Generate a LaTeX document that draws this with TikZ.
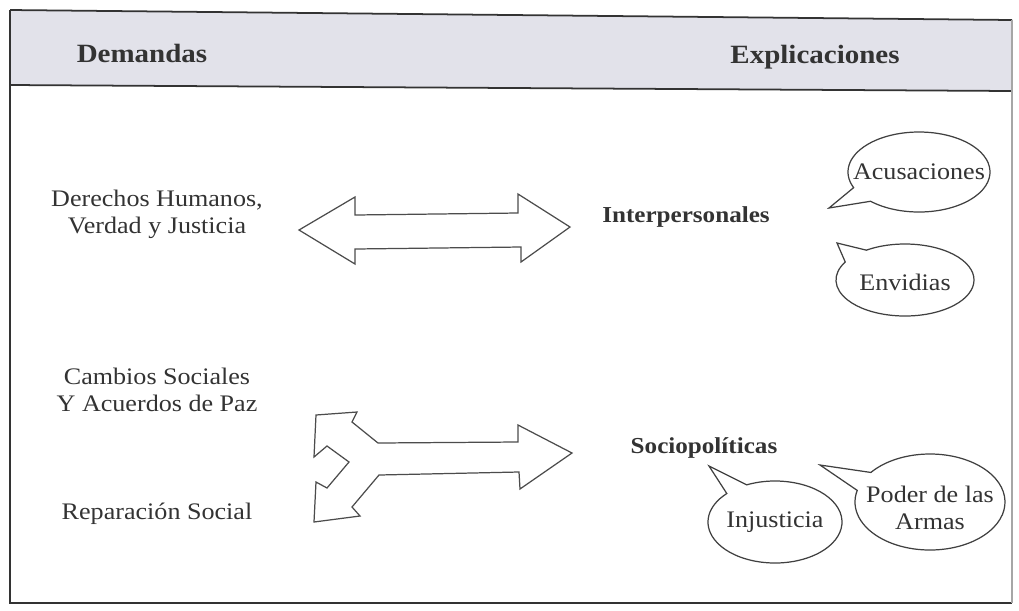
\documentclass[tikz,border=0pt]{standalone}
\usepackage{fontspec}
\setmainfont{Liberation Serif}[FakeStretch=1.1]
\usetikzlibrary{calc}
\definecolor{hdr}{HTML}{E2E2EA}
\definecolor{ink}{HTML}{333333}
\newcommand\spbubble[7]{%
  \draw[bubble] ($(#1)+(#4:#2 and #3)$) -- (#6) -- ($(#1)+(#5:#2 and #3)$)
    arc[start angle=#5, end angle=#7, x radius=#2, y radius=#3] -- cycle;}
\begin{document}
\begin{tikzpicture}[x=0.02cm,y=-0.02cm,
  txt/.style={text=ink,font=\fontsize{13.5}{15.5}\selectfont,align=center,inner sep=0pt},
  btxt/.style={txt,font=\fontsize{13}{15}\selectfont\bfseries},
  htxt/.style={txt,font=\fontsize{15}{18}\selectfont\bfseries},
  blockarrow/.style={draw=black!70,line width=0.7pt,line join=miter,fill=white},
  bubble/.style={draw=black!75,line width=0.7pt,fill=white},
  frame/.style={draw=black!80,line width=1pt}]
\useasboundingbox (0,0) rectangle (1019,610);
% frame and header
\fill[hdr] (10,10) -- (1012,20) -- (1012,91) -- (10,85) -- cycle;
\draw[frame] (10,10) -- (1012,20);
\draw[frame] (10,85) -- (1012,91);
\draw[frame] (10,10) -- (10,603) -- (1012,603);
\draw[black!35,line width=0.6pt] (1012,20) -- (1012,603);
\node[htxt] (dem) at (142,53) {Demandas};
\node[htxt] (exp) at (815,57) {Explicaciones};
% left texts
\node[txt] (dh) at (157,214) {Derechos Humanos,\\Verdad y Justicia};
\node[txt] (cs) at (157,390) {Cambios Sociales\\Y Acuerdos de Paz};
\node[txt] (rs) at (157,514) {Reparación Social};
% middle labels
\node[btxt] (inter) at (686,217) {Interpersonales};
\node[btxt] (socio) at (704,448) {Sociopolíticas};
% double arrow
\draw[blockarrow] (299,230) -- (355,197) -- (355,215) -- (518,213) -- (518,194)
  -- (570,227) -- (521,262) -- (521,247) -- (355,249) -- (355,264) -- cycle;
% fork arrow
\draw[blockarrow] (572,453) -- (518,425) -- (518,442) -- (378,443) -- (352,422)
  -- (357,412) -- (316,415) -- (314,457) -- (327,446) -- (349,462) -- (327,488)
  -- (316,482) -- (314,522) -- (360,516) -- (352,507) -- (379,475) -- (519,472)
  -- (520,489) -- cycle;
% speech bubbles
\coordinate (cA) at (919,172); \coordinate (tA) at (829,208);
\coordinate (cE) at (905,280); \coordinate (tE) at (837,243);
\coordinate (cI) at (775,522); \coordinate (tI) at (709,466);
\coordinate (cP) at (930,502); \coordinate (tP) at (820,465);
\spbubble{cA}{71}{40}{157}{133}{tA}{-203}
\spbubble{cE}{69}{36}{210}{236}{tE}{570}
\spbubble{cI}{67}{41}{224}{245}{tI}{584}
\spbubble{cP}{75}{48}{194}{218}{tP}{554}
\node[txt] (acu) at (919,172) {Acusaciones};
\node[txt] (env) at (905,282) {Envidias};
\node[txt] (inj) at (775,522) {Injusticia};
\node[txt] (pod) at (930,508) {Poder de las\\Armas};
\end{tikzpicture}
\end{document}
